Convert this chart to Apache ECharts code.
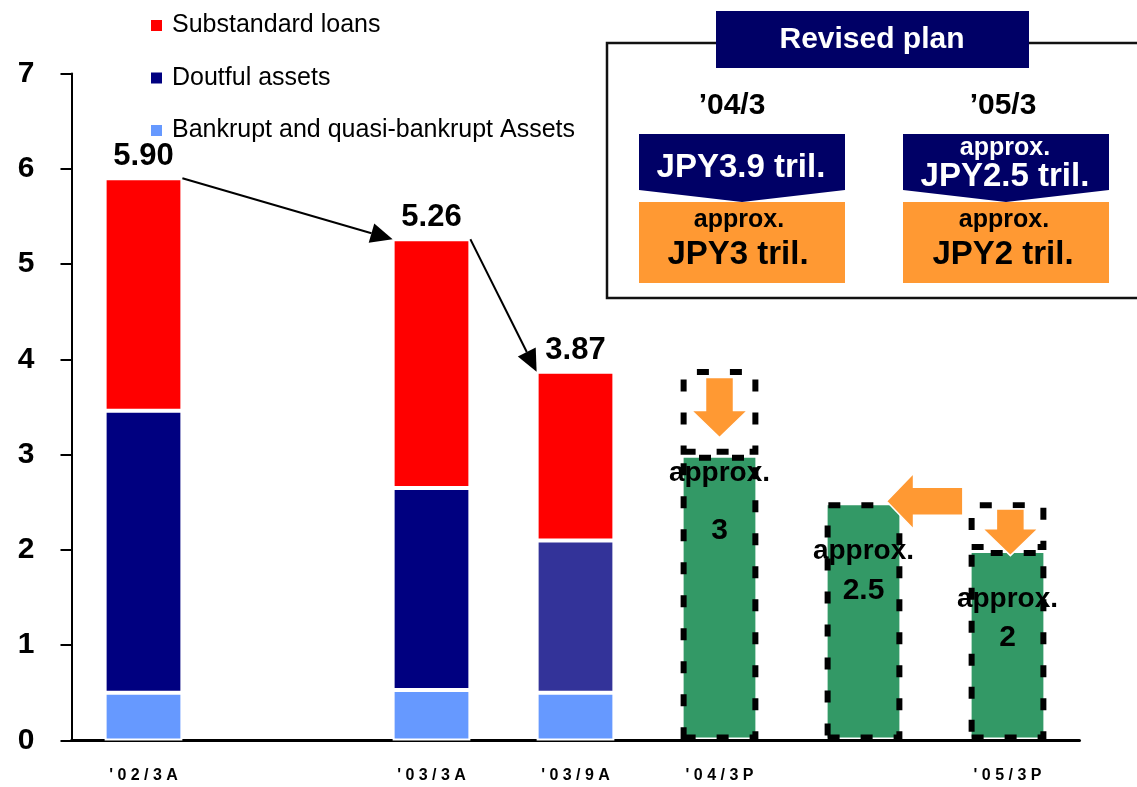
<!DOCTYPE html>
<html>
<head>
<meta charset="utf-8">
<title>Non-performing loans</title>
<script src="https://cdn.jsdelivr.net/npm/echarts@6/dist/echarts.min.js"></script>
<style>
  html, body { margin: 0; padding: 0; background: #fff; }
  #main { width: 1137px; height: 787px; }
</style>
</head>
<body>
<div id="main"></div>
<script>
// categories on the x axis (blank slots keep the original spacing)
var categories = ["'02/3A", "", "'03/3A", "'03/9A", "'04/3P", "", "'05/3P"];

// JPY trillion
var bankrupt = [0.50, null, 0.53, 0.50, null, null, null];
var doubtful = [2.96, null, 2.12, 1.60, null, null, null];
var substandard = [2.44, null, 2.61, 1.77, null, null, null];
var totals = [5.90, null, 5.26, 3.87, null, null, null];

// plan targets and the earlier (higher) plan they replaced
var planValues = [null, null, null, null, 3, 2.5, 2];
var earlierPlanExtra = [null, null, null, null, 0.9, null, 0.5];
var planText = [null, null, null, null, '3', '2.5', '2'];

// orange block arrows (x in category units, y in JPY tril.)
var arrowFromX = [4, 5.69, 6.02];
var arrowFromY = [3.81, 2.51, 2.43];
var arrowToX = [4, 5.16, 6.02];
var arrowToY = [3.18, 2.51, 1.94];

var yTicks = [0, 1, 2, 3, 4, 5, 6, 7];

var FONT = "'Liberation Sans', Arial, sans-serif";
var halfBar = 0.27;

var chart = echarts.init(document.getElementById('main'));

// black connector arrows between the bar tops
var connectors = [
  [0 + halfBar, totals[0], 2 - halfBar, totals[2]],
  [2 + halfBar, totals[2], 3 - halfBar, totals[3]]
];

var blockArrows = arrowFromX.map(function (x, i) {
  return [x, arrowFromY[i], arrowToX[i], arrowToY[i]];
});

function renderConnector(params, api) {
  var p1 = api.coord([api.value(0), api.value(1)]);
  var p2 = api.coord([api.value(2), api.value(3)]);
  var dx = p2[0] - p1[0], dy = p2[1] - p1[1];
  var len = Math.sqrt(dx * dx + dy * dy);
  var ux = dx / len, uy = dy / len;
  var headLen = 22, headHalf = 10;
  var bx = p2[0] - ux * headLen, by = p2[1] - uy * headLen;
  return {
    type: 'group',
    children: [{
      type: 'line',
      shape: { x1: p1[0], y1: p1[1], x2: bx, y2: by },
      style: { stroke: '#000', lineWidth: 2 }
    }, {
      type: 'polygon',
      shape: { points: [p2, [bx - uy * headHalf, by + ux * headHalf], [bx + uy * headHalf, by - ux * headHalf]] },
      style: { fill: '#000' }
    }]
  };
}

function renderBlockArrow(params, api) {
  var p1 = api.coord([api.value(0), api.value(1)]);
  var p2 = api.coord([api.value(2), api.value(3)]);
  var dx = p2[0] - p1[0], dy = p2[1] - p1[1];
  var len = Math.sqrt(dx * dx + dy * dy);
  var ux = dx / len, uy = dy / len;
  var nx = -uy, ny = ux;
  var shaft = 14, head = 28, headLen = 27;
  var neckX = p2[0] - ux * headLen, neckY = p2[1] - uy * headLen;
  var pts = [
    [p1[0] + nx * shaft, p1[1] + ny * shaft],
    [neckX + nx * shaft, neckY + ny * shaft],
    [neckX + nx * head, neckY + ny * head],
    p2,
    [neckX - nx * head, neckY - ny * head],
    [neckX - nx * shaft, neckY - ny * shaft],
    [p1[0] - nx * shaft, p1[1] - ny * shaft]
  ];
  return {
    type: 'polygon',
    shape: { points: pts },
    style: { fill: '#FF9933', stroke: '#fff', lineWidth: 1.5 }
  };
}

var planData = planValues.map(function (v, i) {
  if (v == null) return null;
  var first = i === 4;
  return {
    value: v,
    label: {
      distance: first ? 4 : 34,
      formatter: '{a|approx.}\n{' + (first ? 'b1' : 'b2') + '|' + planText[i] + '}'
    }
  };
});

var dashed = [12, 21];

var option = {
  backgroundColor: '#ffffff',
  animation: false,
  textStyle: { fontFamily: FONT },
  legend: {
    orient: 'vertical',
    left: 151,
    top: 13,
    padding: 0,
    itemWidth: 11,
    itemHeight: 11,
    itemGap: 27.5,
    icon: 'rect',
    selectedMode: false,
    itemStyle: { borderWidth: 0 },
    data: ['Substandard loans', 'Doutful assets', 'Bankrupt and quasi-bankrupt Assets'],
    textStyle: { fontSize: 25, color: '#000', fontFamily: FONT, padding: [0, 0, 0, 5] }
  },
  grid: { left: 71.5, right: 57.5, top: 73.5, bottom: 46.5 },
  xAxis: [{
    type: 'category',
    data: categories,
    axisLine: { lineStyle: { color: '#000', width: 3 } },
    axisTick: { show: false },
    axisLabel: {
      interval: 0,
      margin: 27,
      fontSize: 16,
      fontWeight: 'bold',
      color: '#000',
      fontFamily: FONT,
      formatter: function (v) { return v.split('').join(' '); }
    }
  }, {
    type: 'value',
    min: -0.5,
    max: 6.5,
    show: false
  }],
  yAxis: {
    type: 'value',
    min: yTicks[0],
    max: yTicks[yTicks.length - 1],
    interval: 1,
    splitLine: { show: false },
    axisLine: { show: true, onZero: false, lineStyle: { color: '#000', width: 2 } },
    axisTick: { show: true, length: 11, lineStyle: { color: '#000', width: 2 } },
    axisLabel: { fontSize: 30, fontWeight: 'bold', color: '#000', margin: 37, fontFamily: FONT }
  },
  series: [{
    name: 'Bankrupt and quasi-bankrupt Assets',
    type: 'bar',
    stack: 'npl',
    barCategoryGap: '46%',
    data: bankrupt,
    itemStyle: { color: '#6699FF', borderColor: '#fff', borderWidth: 2 }
  }, {
    name: 'Doutful assets',
    type: 'bar',
    stack: 'npl',
    data: doubtful.map(function (v, i) {
      return i === 3 ? { value: v, itemStyle: { color: '#333399' } } : v;
    }),
    itemStyle: { color: '#000080', borderColor: '#fff', borderWidth: 2 }
  }, {
    name: 'Substandard loans',
    type: 'bar',
    stack: 'npl',
    data: substandard,
    itemStyle: { color: '#FF0000', borderColor: '#fff', borderWidth: 2 },
    label: {
      show: true,
      position: 'top',
      distance: 6,
      fontSize: 31,
      fontWeight: 'bold',
      color: '#000',
      fontFamily: FONT,
      formatter: function (p) { return totals[p.dataIndex].toFixed(2); }
    }
  }, {
    name: 'Plan',
    type: 'bar',
    stack: 'npl',
    data: planData,
    itemStyle: {
      color: '#339966',
      borderColor: '#000',
      borderWidth: 6,
      borderType: dashed
    },
    label: {
      show: true,
      position: 'insideTop',
      color: '#000',
      fontFamily: FONT,
      rich: {
        a: { fontSize: 28, fontWeight: 'bold', color: '#000', lineHeight: 30, fontFamily: FONT },
        b1: { fontSize: 30, fontWeight: 'bold', color: '#000', lineHeight: 30, padding: [54, 0, 0, 0], fontFamily: FONT },
        b2: { fontSize: 30, fontWeight: 'bold', color: '#000', lineHeight: 30, padding: [18, 0, 0, 0], fontFamily: FONT }
      }
    },
    z: 3
  }, {
    name: 'Earlier plan',
    type: 'bar',
    stack: 'npl',
    data: earlierPlanExtra,
    itemStyle: {
      color: 'rgba(0,0,0,0)',
      borderColor: '#000',
      borderWidth: 6,
      borderType: dashed
    },
    z: 3
  }, {
    name: 'Connectors',
    type: 'custom',
    xAxisIndex: 1,
    yAxisIndex: 0,
    encode: { x: [0, 2], y: [1, 3] },
    data: connectors,
    renderItem: renderConnector,
    z: 6
  }, {
    name: 'Plan arrows',
    type: 'custom',
    xAxisIndex: 1,
    yAxisIndex: 0,
    encode: { x: [0, 2], y: [1, 3] },
    data: blockArrows,
    renderItem: renderBlockArrow,
    z: 6
  }],
  graphic: [{
    type: 'rect',
    shape: { x: 607, y: 43, width: 545, height: 255 },
    style: { fill: 'none', stroke: '#111', lineWidth: 2.5 }
  }, {
    type: 'rect',
    shape: { x: 716, y: 11, width: 313, height: 57 },
    style: { fill: '#000066' }
  }, {
    type: 'text',
    x: 872, y: 40,
    style: { text: 'Revised plan', fill: '#fff', font: 'bold 30px ' + FONT, align: 'center', verticalAlign: 'middle' }
  }, {
    type: 'text',
    x: 732, y: 106,
    style: { text: '\u201904/3', fill: '#000', font: 'bold 30px ' + FONT, align: 'center', verticalAlign: 'middle' }
  }, {
    type: 'text',
    x: 1003, y: 106,
    style: { text: '\u201905/3', fill: '#000', font: 'bold 30px ' + FONT, align: 'center', verticalAlign: 'middle' }
  }, {
    type: 'polygon',
    shape: { points: [[639, 134], [845, 134], [845, 190], [742, 202], [639, 190]] },
    style: { fill: '#000066' }
  }, {
    type: 'polygon',
    shape: { points: [[903, 134], [1109, 134], [1109, 190], [1006, 202], [903, 190]] },
    style: { fill: '#000066' }
  }, {
    type: 'rect',
    shape: { x: 639, y: 202, width: 206, height: 81 },
    style: { fill: '#FF9933' }
  }, {
    type: 'rect',
    shape: { x: 903, y: 202, width: 206, height: 81 },
    style: { fill: '#FF9933' }
  }, {
    type: 'text',
    x: 741, y: 168,
    style: { text: 'JPY3.9 tril.', fill: '#fff', font: 'bold 33px ' + FONT, align: 'center', verticalAlign: 'middle' }
  }, {
    type: 'text',
    x: 1005, y: 148,
    style: { text: 'approx.', fill: '#fff', font: 'bold 25px ' + FONT, align: 'center', verticalAlign: 'middle' }
  }, {
    type: 'text',
    x: 1005, y: 177,
    style: { text: 'JPY2.5 tril.', fill: '#fff', font: 'bold 33px ' + FONT, align: 'center', verticalAlign: 'middle' }
  }, {
    type: 'text',
    x: 739, y: 220,
    style: { text: 'approx.', fill: '#000', font: 'bold 25px ' + FONT, align: 'center', verticalAlign: 'middle' }
  }, {
    type: 'text',
    x: 738, y: 255,
    style: { text: 'JPY3 tril.', fill: '#000', font: 'bold 33px ' + FONT, align: 'center', verticalAlign: 'middle' }
  }, {
    type: 'text',
    x: 1004, y: 220,
    style: { text: 'approx.', fill: '#000', font: 'bold 25px ' + FONT, align: 'center', verticalAlign: 'middle' }
  }, {
    type: 'text',
    x: 1003, y: 255,
    style: { text: 'JPY2 tril.', fill: '#000', font: 'bold 33px ' + FONT, align: 'center', verticalAlign: 'middle' }
  }]
};

chart.setOption(option);
</script>
</body>
</html>
